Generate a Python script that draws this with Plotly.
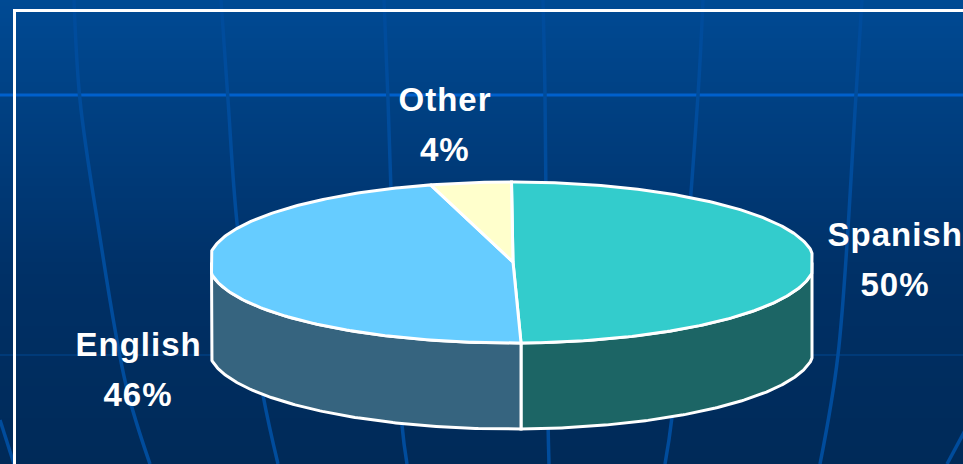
import numpy as np
import plotly.graph_objects as go

categories = ["Spanish", "English", "Other"]
values = [49.5, 46.2, 4.3]
top_colors = ["#33cccc", "#66ccff", "#ffffcc"]
wall_colors = ["#1c6565", "#36647f", None]
label_pos = [(895, 259), (138, 369), (445, 124)]

W, H = 963, 464
CX, CY, RX, RY, DEPTH = 511.5, 262.5, 303, 80.5, 86
X_MIN, X_MAX = 211.5, 812
APEX = (513, 262)
WHITE = "#ffffff"

bg_lines = [
    ([74, 80, 98, 126, 150], [0, 100, 225, 385, 464], "#004c9c", 3.5),
    ([221, 228, 238, 263, 278], [0, 100, 232, 395, 464], "#004c9c", 3.5),
    ([384, 388, 391, 402, 407], [0, 100, 190, 425, 464], "#004c9c", 3.5),
    ([543, 545, 548, 549], [0, 95, 420, 464], "#004c9c", 3.5),
    ([703, 698, 672, 665], [0, 95, 417, 464], "#004c9c", 3.5),
    ([862, 856, 838, 820], [0, 95, 355, 464], "#004c9c", 3.5),
    ([0, 14], [420, 464], "#004c9c", 3.5),
    ([975, 947], [412, 464], "#004c9c", 3.5),
]
h_lines = [(95, "#0060cc", 3), (355, "#003a78", 2)]


def ell(t):
    return np.clip(CX + RX * np.sin(t), X_MIN, X_MAX), CY - RY * np.cos(t)


fig = go.Figure()

ys = np.arange(0, H + 1, 4)
frac = ys / H
z = [[v, v] for v in frac]
fig.add_trace(go.Heatmap(x=[0, W], y=ys, z=z, showscale=False, hoverinfo="skip",
                         colorscale=[[0, "#004a94"], [0.6, "#003066"], [1, "#002a58"]]))

for y, c, w in h_lines:
    fig.add_trace(go.Scatter(x=[0, W], y=[y, y], mode="lines", line=dict(color=c, width=w), hoverinfo="skip"))
for xs, yv, c, w in bg_lines:
    fig.add_trace(go.Scatter(x=xs, y=yv, mode="lines", line=dict(color=c, width=w, shape="spline"), hoverinfo="skip"))

fracs = np.array(values) / sum(values)
edges = np.concatenate([[0], np.cumsum(fracs)]) * 2 * np.pi

for i in range(len(categories)):
    a0, a1 = max(edges[i], np.pi / 2), min(edges[i + 1], 3 * np.pi / 2)
    if a1 <= a0 or wall_colors[i] is None:
        continue
    t = np.linspace(a0, a1, 160)
    x, y = ell(t)
    fig.add_trace(go.Scatter(
        x=np.concatenate([x, x[::-1], x[:1]]),
        y=np.concatenate([y, y[::-1] + DEPTH, y[:1]]),
        mode="lines", fill="toself", fillcolor=wall_colors[i],
        line=dict(color=WHITE, width=3), hoverinfo="skip"))

for i, name in enumerate(categories):
    t = np.linspace(edges[i], edges[i + 1], 240)
    x, y = ell(t)
    fig.add_trace(go.Scatter(
        x=np.concatenate([[APEX[0]], x, [APEX[0]]]),
        y=np.concatenate([[APEX[1]], y, [APEX[1]]]),
        mode="lines", fill="toself", fillcolor=top_colors[i],
        line=dict(color=WHITE, width=3), name=name, hoverinfo="skip"))

font = dict(family="Liberation Sans, Arial, sans-serif", size=33, color=WHITE)
for name, v, (lx, ly) in zip(categories, values, label_pos):
    pct = f"{round(v / sum(values) * 100)}%"
    fig.add_annotation(x=lx, y=ly - 25, text=f"<b>{name}</b>", showarrow=False, font=font,
                       xref="x", yref="y", xanchor="center", yanchor="middle")
    fig.add_annotation(x=lx, y=ly + 25, text=f"<b>{pct}</b>", showarrow=False, font=font,
                       xref="x", yref="y", xanchor="center", yanchor="middle")

fig.update_layout(
    width=W, height=H, margin=dict(l=0, r=0, t=0, b=0), showlegend=False,
    paper_bgcolor="#003066", plot_bgcolor="rgba(0,0,0,0)",
    xaxis=dict(range=[0, W], visible=False, fixedrange=True),
    yaxis=dict(range=[H, 0], visible=False, fixedrange=True),
    shapes=[dict(type="rect", xref="x", yref="y", x0=14.5, y0=10.5, x1=W + 20, y1=H + 20,
                 line=dict(color=WHITE, width=3), fillcolor="rgba(0,0,0,0)", layer="above")],
)
post = ("document.documentElement.style.margin='0';document.body.style.margin='0';"
        "document.body.style.overflow='hidden';"
        "document.querySelectorAll('.annotation-text').forEach(function(e){e.style.letterSpacing='1px';});")
fig.write_html("out.html", config={"displayModeBar": False}, post_script=post)
